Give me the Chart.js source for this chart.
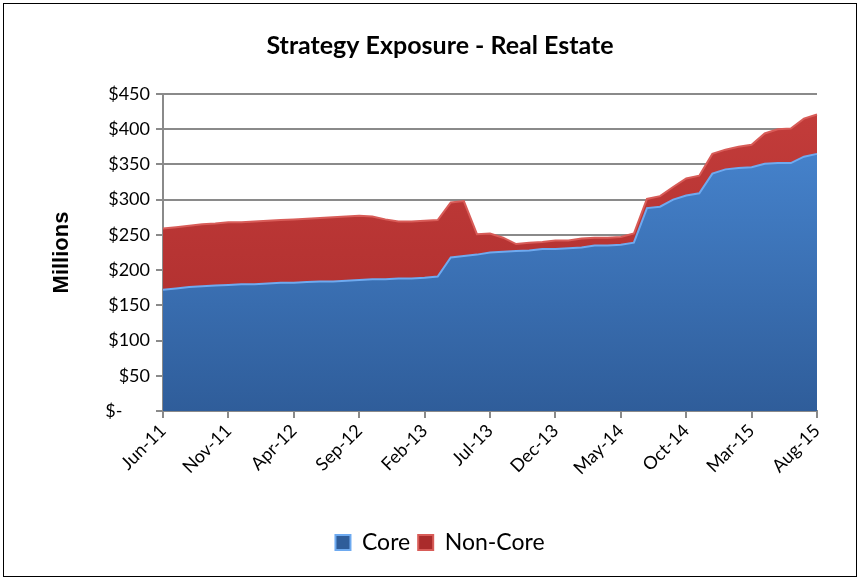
<!DOCTYPE html>
<html>
<head>
<meta charset="utf-8">
<script src="https://cdn.jsdelivr.net/npm/chart.js@4.4.1/dist/chart.umd.min.js"></script>
<style>
  body { margin: 0; background: #fff; }
</style>
</head>
<body>
<canvas id="exposureChart" width="860" height="580"></canvas>
<script>
const months = [
    'Jun-11', 'Jul-11', 'Aug-11', 'Sep-11', 'Oct-11', 'Nov-11', 'Dec-11',
    'Jan-12', 'Feb-12', 'Mar-12', 'Apr-12', 'May-12', 'Jun-12', 'Jul-12', 'Aug-12', 'Sep-12', 'Oct-12', 'Nov-12', 'Dec-12',
    'Jan-13', 'Feb-13', 'Mar-13', 'Apr-13', 'May-13', 'Jun-13', 'Jul-13', 'Aug-13', 'Sep-13', 'Oct-13', 'Nov-13', 'Dec-13',
    'Jan-14', 'Feb-14', 'Mar-14', 'Apr-14', 'May-14', 'Jun-14', 'Jul-14', 'Aug-14', 'Sep-14', 'Oct-14', 'Nov-14', 'Dec-14',
    'Jan-15', 'Feb-15', 'Mar-15', 'Apr-15', 'May-15', 'Jun-15', 'Jul-15', 'Aug-15'
];

// $ millions
const core = [
    172, 174, 176, 177, 178, 179, 180,
    180, 181, 182, 182, 183, 184, 184, 185, 186, 187, 187, 188,
    188, 189, 191, 218, 220, 222, 225, 226, 227, 228, 230, 230,
    231, 232, 235, 235, 236, 239, 288, 290, 300, 306, 309, 337,
    343, 345, 346, 351, 352, 352, 361, 365
];

const nonCore = [
    87, 87, 87, 88, 88, 89, 88,
    89, 89, 89, 90, 90, 90, 91, 91, 91, 89, 85, 81,
    81, 81, 80, 78, 78, 29, 27, 20, 10, 11, 10, 12,
    11, 13, 11, 11, 11, 13, 13, 15, 18, 24, 25, 28,
    28, 30, 32, 43, 48, 49, 54, 56
];

const yTicks = [0, 50, 100, 150, 200, 250, 300, 350, 400, 450];

function areaGradient(topColor, bottomColor) {
    return function(context) {
        const chart = context.chart;
        if (!chart.chartArea) return bottomColor;
        const g = chart.ctx.createLinearGradient(0, chart.chartArea.top, 0, chart.chartArea.bottom);
        g.addColorStop(0, topColor);
        g.addColorStop(1, bottomColor);
        return g;
    };
}

const frame = {
    id: 'frame',
    beforeDraw(chart) {
        const c = chart.ctx;
        c.save();
        c.fillStyle = '#ffffff';
        c.fillRect(0, 0, chart.width, chart.height);
        c.restore();
    },
    afterDraw(chart) {
        const c = chart.ctx;
        c.save();
        c.strokeStyle = '#000000';
        c.lineWidth = 1;
        c.strokeRect(3.5, 3.5, chart.width - 7, chart.height - 7);
        c.restore();
    }
};

const ctx = document.getElementById('exposureChart').getContext('2d');

new Chart(ctx, {
    type: 'line',
    data: {
        labels: months,
        datasets: [{
            label: 'Core',
            data: core,
            fill: 'origin',
            backgroundColor: areaGradient('#4a8ad6', '#2f5d9a'),
            borderColor: '#6eaaf0',
            borderWidth: 2
        }, {
            label: 'Non-Core',
            data: nonCore,
            fill: '-1',
            backgroundColor: areaGradient('#c43d3b', '#aa2b2b'),
            borderColor: '#d85c58',
            borderWidth: 2
        }]
    },
    options: {
        responsive: false,
        animation: false,
        layout: { padding: { left: 20, right: 0, top: 0, bottom: 16 } },
        elements: {
            point: { radius: 0 },
            line: { tension: 0 }
        },
        plugins: {
            title: {
                display: true,
                text: 'Strategy Exposure - Real Estate',
                color: '#000',
                font: { family: 'Lato', size: 25, weight: 'bold' },
                padding: { top: 31, bottom: 33 }
            },
            legend: {
                position: 'bottom',
                labels: {
                    color: '#000',
                    font: { family: 'Lato', size: 23 },
                    boxWidth: 15,
                    boxHeight: 15,
                    padding: 8
                }
            },
            tooltip: { enabled: false }
        },
        scales: {
            x: {
                offset: false,
                afterFit: function(scale) { scale.height = 112; },
                border: { color: '#8a8a8a', width: 2 },
                grid: {
                    drawOnChartArea: false,
                    tickLength: 7,
                    lineWidth: 2,
                    color: function(c) { return c.index % 5 === 0 ? '#8a8a8a' : 'rgba(0,0,0,0)'; }
                },
                ticks: {
                    autoSkip: false,
                    maxRotation: 45,
                    minRotation: 45,
                    color: '#000',
                    font: { family: 'Lato', size: 18 },
                    padding: 2,
                    callback: function(v, i) { return i % 5 === 0 ? months[i] : ''; }
                }
            },
            y: {
                stacked: true,
                min: 0,
                max: 450,
                afterFit: function(scale) { scale.width = 143; },
                afterBuildTicks: function(scale) { scale.ticks = yTicks.map(v => ({ value: v })); },
                border: { color: '#8a8a8a', width: 2 },
                grid: { color: '#8a8a8a', lineWidth: 2, tickLength: 7 },
                ticks: {
                    color: '#000',
                    font: { family: 'Lato', size: 18 },
                    padding: 6,
                    callback: function(v) { return v === 0 ? '$-      ' : '$' + v; }
                },
                title: {
                    display: true,
                    text: 'Millions',
                    color: '#000',
                    font: { family: 'Liberation Sans', size: 22, weight: 'bold' },
                    padding: { top: 29, bottom: 0 }
                }
            },
            // empty right-hand axis, only to keep the right margin
            spacer: {
                type: 'linear',
                position: 'right',
                afterFit: function(scale) { scale.width = 43; },
                grid: { display: false },
                border: { display: false },
                ticks: { display: false }
            }
        }
    },
    plugins: [frame]
});
</script>
</body>
</html>
